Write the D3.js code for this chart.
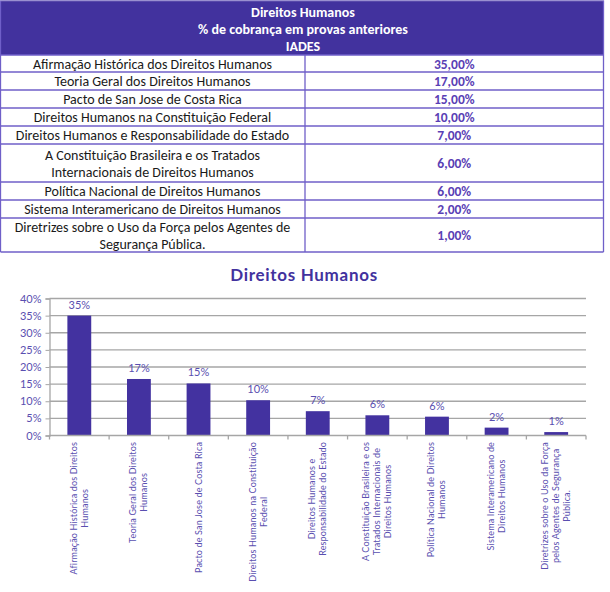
<!DOCTYPE html>
<html>
<head>
<meta charset="utf-8">
<script src="https://cdn.jsdelivr.net/npm/d3@7"></script>
<style>
  html, body { margin: 0; padding: 0; background: #fff; }
  svg { display: block; }
</style>
</head>
<body>
<svg id="chart" width="610" height="592"></svg>
<script>
// ---------- DATA ----------
const headerLines = ["Direitos Humanos", "% de cobrança em provas anteriores", "IADES"];
const tableCategories = [
  ["Afirmação Histórica dos Direitos Humanos"],
  ["Teoria Geral dos Direitos Humanos"],
  ["Pacto de San Jose de Costa Rica"],
  ["Direitos Humanos na Constituição Federal"],
  ["Direitos Humanos e Responsabilidade do Estado"],
  ["A Constituição Brasileira e os Tratados", "Internacionais de Direitos Humanos"],
  ["Política Nacional de Direitos Humanos"],
  ["Sistema Interamericano de Direitos Humanos"],
  ["Diretrizes sobre o Uso da Força pelos Agentes de", "Segurança Pública."]
];
const tableValues = ["35,00%", "17,00%", "15,00%", "10,00%", "7,00%", "6,00%", "6,00%", "2,00%", "1,00%"];

const chartTitle = "Direitos Humanos";
const chartLabels = [
  ["Afirmação Histórica dos Direitos", "Humanos"],
  ["Teoria Geral dos Direitos", "Humanos"],
  ["Pacto de San Jose de Costa Rica"],
  ["Direitos Humanos na Constituição", "Federal"],
  ["Direitos Humanos e", "Responsabilidade do Estado"],
  ["A Constituição Brasileira e os", "Tratados Internacionais de", "Direitos Humanos"],
  ["Política Nacional de Direitos", "Humanos"],
  ["Sistema Interamericano de", "Direitos Humanos"],
  ["Diretrizes sobre o Uso da Força", "pelos Agentes de Segurança", "Pública."]
];
const chartValues = [35, 16.5, 15.2, 10.3, 7.1, 5.9, 5.5, 2.3, 1.0];
const valueLabels = ["35%", "17%", "15%", "10%", "7%", "6%", "6%", "2%", "1%"];
const yTicks = [0, 5, 10, 15, 20, 25, 30, 35, 40];

// ---------- STYLE ----------
const purple = "#42329e";
const borderCol = "#6f5fc8";
const valueCol = "#5a3fb5";
const lightPurple = "#5a4fb0";
const tableFont = "Carlito, Calibri, Lato, sans-serif";
const chartFont = "Lato, 'Century Gothic', sans-serif";

const svg = d3.select("#chart");

// ---------- TABLE ----------
const tLeft = 0.5, tRight = 603.5, tDiv = 305, headerTop = 0.5, headerBottom = 55;
const rowHeights = [17, 18, 18, 18, 18, 38, 18, 18, 34];
const rowTops = [];
let acc = headerBottom;
rowHeights.forEach(h => { rowTops.push(acc); acc += h; });
const tableBottom = acc;

svg.append("rect")
  .attr("x", tLeft).attr("y", headerTop)
  .attr("width", tRight - tLeft).attr("height", headerBottom - headerTop)
  .attr("fill", purple);

svg.append("g").selectAll("text").data(headerLines).join("text")
  .attr("x", 303)
  .attr("y", (d, i) => 16.5 + i * 17)
  .attr("text-anchor", "middle")
  .attr("font-family", tableFont)
  .attr("font-weight", "bold")
  .attr("font-size", 14)
  .attr("fill", "#fff")
  .text(d => d);

const rows = svg.append("g").selectAll("g").data(tableCategories).join("g");

rows.append("text")
  .attr("x", tDiv / 2)
  .attr("text-anchor", "middle")
  .attr("font-family", tableFont)
  .attr("font-size", 14)
  .attr("fill", "#1a1a1a")
  .each(function(lines, i) {
    const t = d3.select(this);
    const mid = rowTops[i] + rowHeights[i] / 2;
    const lh = 17;
    lines.forEach((ln, j) => {
      t.append("tspan")
        .attr("x", tDiv / 2)
        .attr("y", mid + (j - (lines.length - 1) / 2) * lh + 5)
        .text(ln);
    });
  });

rows.append("text")
  .attr("x", (tDiv + tRight) / 2)
  .attr("y", (d, i) => rowTops[i] + rowHeights[i] / 2 + 5)
  .attr("text-anchor", "middle")
  .attr("font-family", tableFont)
  .attr("font-weight", "bold")
  .attr("font-size", 13.5)
  .attr("fill", valueCol)
  .text((d, i) => tableValues[i]);

// grid lines of table
const tg = svg.append("g").attr("stroke", borderCol).attr("stroke-width", 1.3).attr("fill", "none");
rowTops.concat([tableBottom]).forEach(y => {
  tg.append("line").attr("x1", tLeft).attr("x2", tRight).attr("y1", y).attr("y2", y);
});
tg.append("line").attr("x1", tLeft).attr("x2", tLeft).attr("y1", headerTop).attr("y2", tableBottom);
tg.append("line").attr("x1", tRight).attr("x2", tRight).attr("y1", headerTop).attr("y2", tableBottom);
tg.append("line").attr("x1", tDiv).attr("x2", tDiv).attr("y1", headerBottom).attr("y2", tableBottom);
tg.append("line").attr("x1", tLeft).attr("x2", tRight).attr("y1", headerTop).attr("y2", headerTop).attr("stroke", "#9a90d0");

// ---------- CHART ----------
const plotLeft = 49.5, plotRight = 586, plotTop = 298.5, plotBottom = 435.5;

svg.append("text")
  .attr("x", 304).attr("y", 281)
  .attr("text-anchor", "middle")
  .attr("font-family", chartFont)
  .attr("font-weight", "bold")
  .attr("font-size", 17)
  .attr("letter-spacing", 0.7)
  .attr("fill", purple)
  .text(chartTitle);

const x = d3.scaleBand()
  .domain(d3.range(chartValues.length))
  .range([plotLeft, plotRight])
  .paddingInner(0.6).paddingOuter(0.3);

const y = d3.scaleLinear().domain([0, 40]).range([plotBottom, plotTop]);

// gridlines
svg.append("g").selectAll("line").data(yTicks.filter(t => t > 0)).join("line")
  .attr("x1", plotLeft).attr("x2", plotRight)
  .attr("y1", d => y(d)).attr("y2", d => y(d))
  .attr("stroke", "#a6a6a6").attr("stroke-width", 1.3);

// y axis
const yAxis = d3.axisLeft(y).tickValues(yTicks).tickSize(4).tickFormat(d => d + "%");
const yg = svg.append("g").attr("transform", `translate(${plotLeft},0)`).call(yAxis);
yg.select(".domain").attr("stroke", "#a6a6a6").attr("stroke-width", 1.3);
yg.selectAll(".tick line").attr("stroke", "#a6a6a6");
yg.selectAll(".tick text")
  .attr("x", -8)
  .attr("font-family", chartFont)
  .attr("font-size", 11)
  .attr("fill", lightPurple);

// bars
svg.append("g").selectAll("rect").data(chartValues).join("rect")
  .attr("x", (d, i) => x(i))
  .attr("y", d => y(d))
  .attr("width", x.bandwidth())
  .attr("height", d => y(0) - y(d))
  .attr("fill", "#4332a0");

// x axis line and category boundary ticks
const boundaries = d3.range(chartValues.length + 1).map(i => plotLeft + i * (plotRight - plotLeft) / chartValues.length);
svg.append("line")
  .attr("x1", plotLeft).attr("x2", plotRight)
  .attr("y1", plotBottom).attr("y2", plotBottom)
  .attr("stroke", "#a6a6a6").attr("stroke-width", 1.3);
svg.append("g").selectAll("line").data(boundaries).join("line")
  .attr("x1", d => d).attr("x2", d => d)
  .attr("y1", plotBottom).attr("y2", plotBottom + 4)
  .attr("stroke", "#a6a6a6").attr("stroke-width", 1.3);

// value labels
svg.append("g").selectAll("text").data(chartValues).join("text")
  .attr("x", (d, i) => x(i) + x.bandwidth() / 2)
  .attr("y", d => y(d) - 7)
  .attr("text-anchor", "middle")
  .attr("font-family", chartFont)
  .attr("font-size", 11)
  .attr("fill", lightPurple)
  .text((d, i) => valueLabels[i]);

// rotated category labels
const labelTop = 442, lineH = 11, labelSize = 9;
const lg = svg.append("g").selectAll("g").data(chartLabels).join("g")
  .attr("transform", (d, i) => `translate(${x(i) + x.bandwidth() / 2},${labelTop}) rotate(-90)`);

lg.each(function(lines) {
  const g = d3.select(this);
  const texts = lines.map((ln, j) => g.append("text")
    .attr("y", (j - (lines.length - 1) / 2) * lineH + 3)
    .attr("text-anchor", "middle")
    .attr("font-family", chartFont)
    .attr("font-size", labelSize)
    .attr("letter-spacing", 0.15)
    .attr("fill", lightPurple)
    .text(ln));
  const maxLen = d3.max(texts, t => t.node().getComputedTextLength());
  texts.forEach(t => t.attr("x", -maxLen / 2));
});
</script>
</body>
</html>
